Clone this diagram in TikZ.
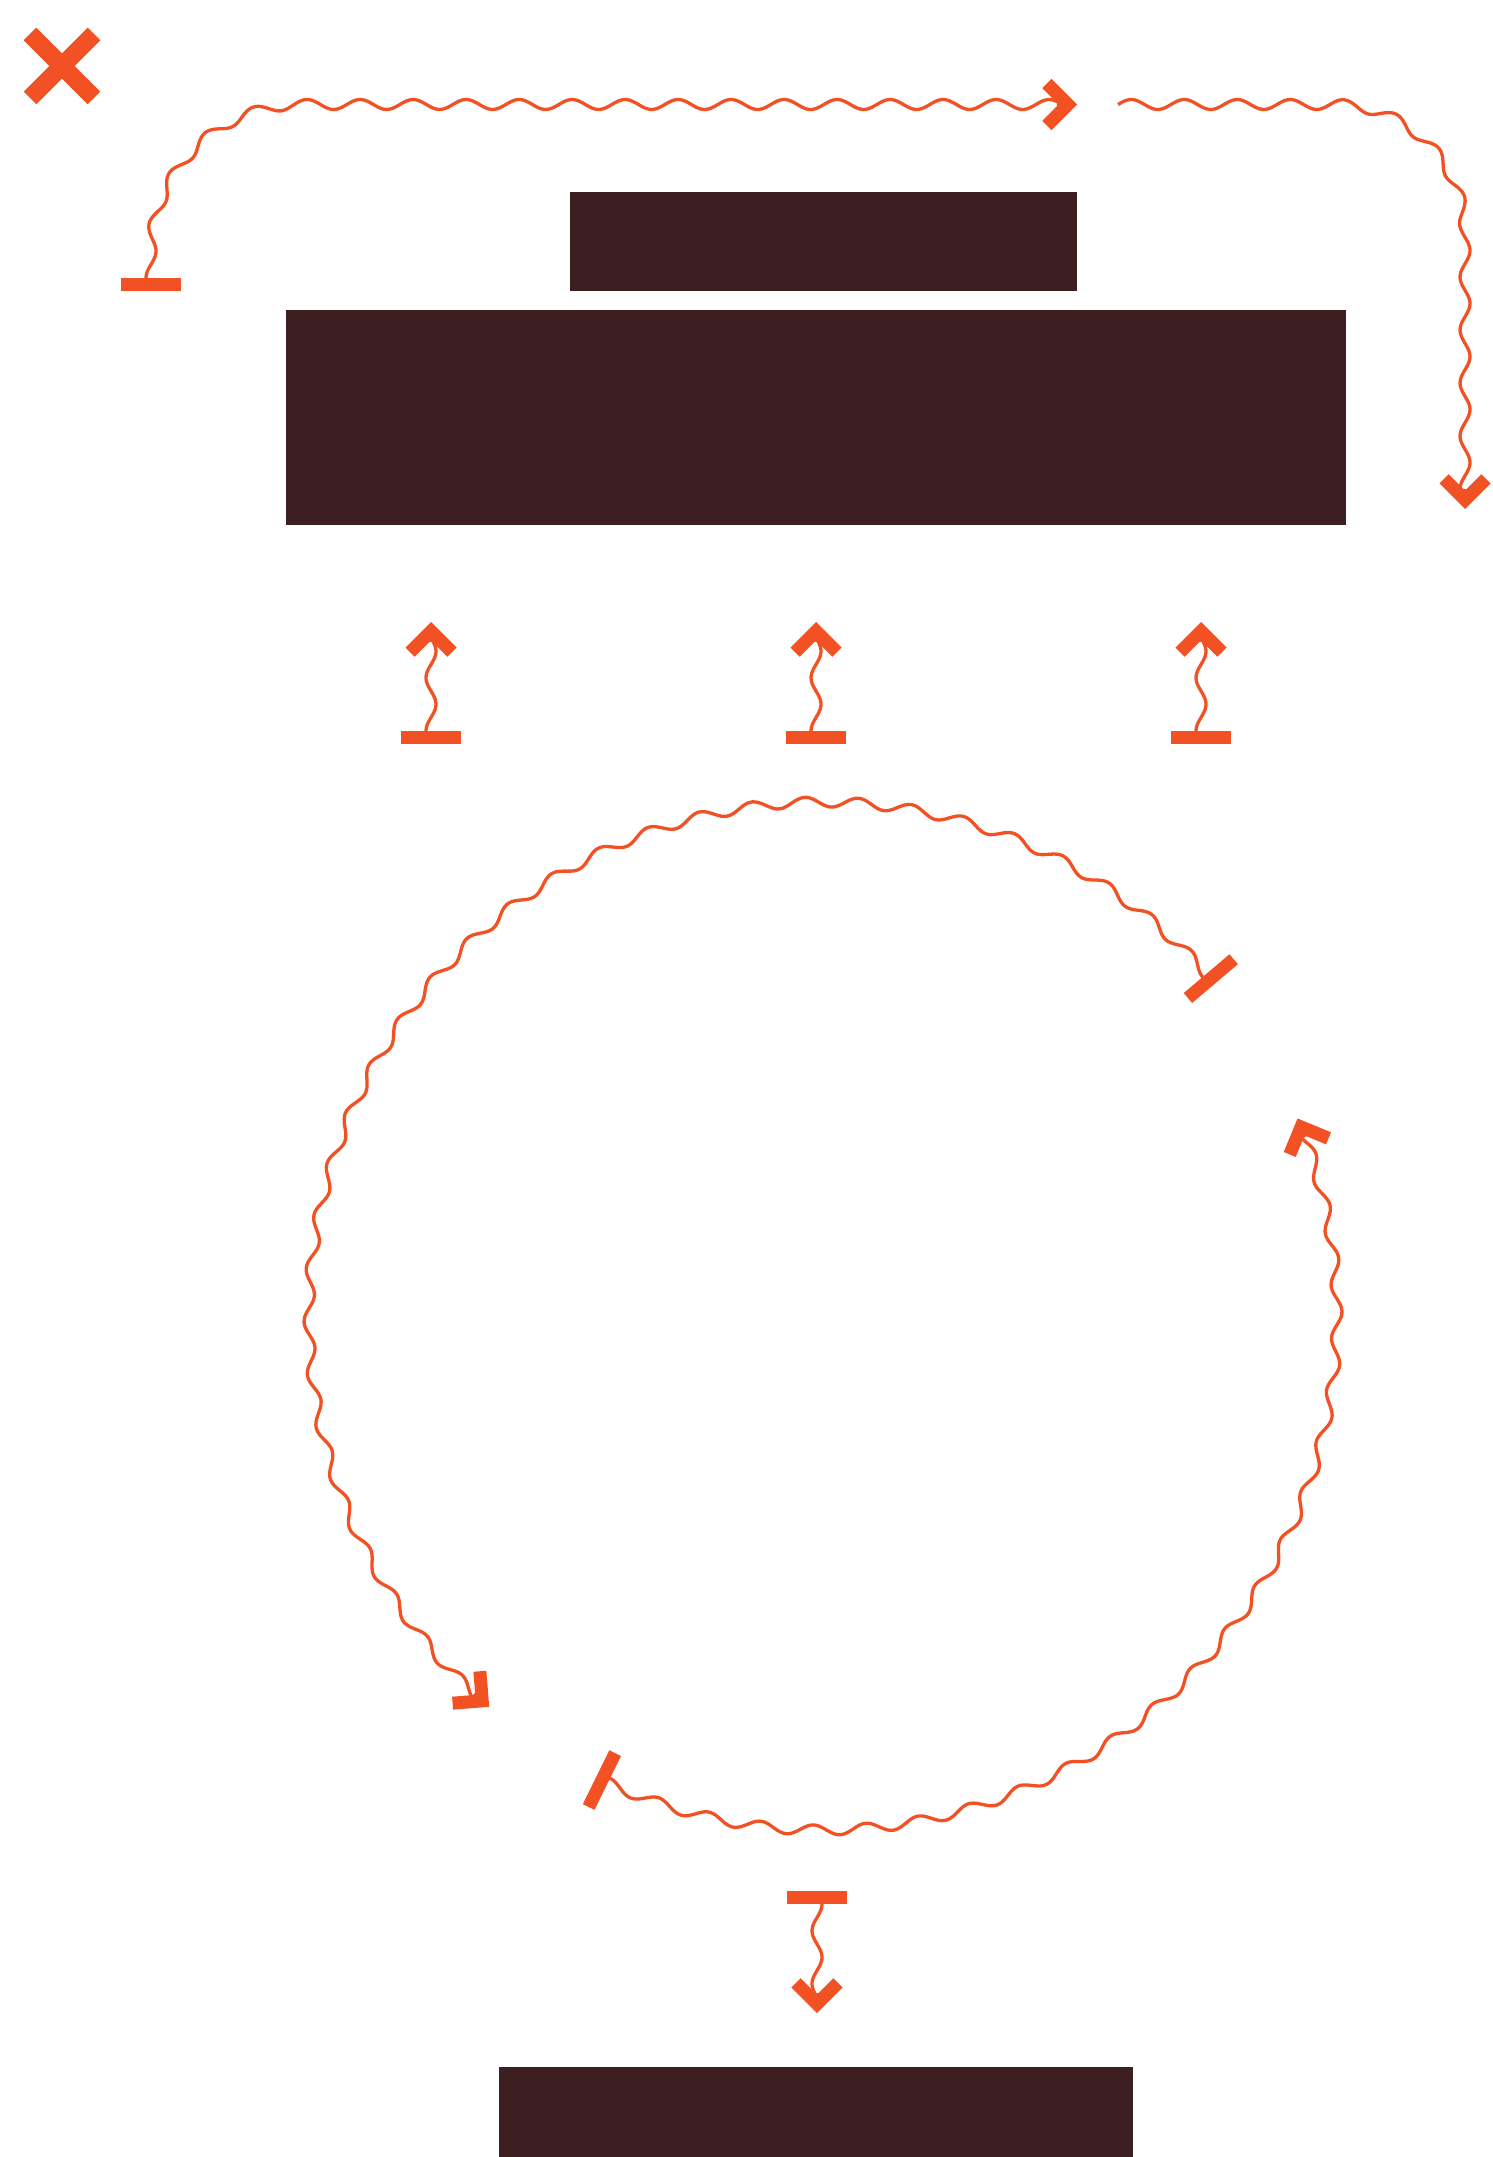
\documentclass[tikz,border=0pt]{standalone}
\usepackage{tikz}
\usetikzlibrary{arrows.meta, positioning, shapes.misc, calc}

\definecolor{accent}{RGB}{242,81,36}
\definecolor{boxdark}{RGB}{61,31,34}
% wave amplitude (cm) and wave number (deg per cm)
\def\wamp{0.05}
\def\wk{679.245}

\begin{document}
\begin{tikzpicture}[
    block/.style={
        rectangle, fill=boxdark, inner sep=0pt, outer sep=0pt
    },
    wave/.style={draw=accent, line width=0.033cm, line join=round},
    basestub/.style={draw=accent, line width=0.033cm, {Bar[width=0.6cm, line width=0.13cm]}-},
    headstub/.style={draw=accent, line width=0.033cm, -{Straight Barb[length=0.21cm, width=0.42cm, line width=0.13cm]}},
    quit/.style={cross out, draw=accent, line width=0.177cm, minimum size=0.64cm, inner sep=0pt, outer sep=0pt}
]
\useasboundingbox (0,0) rectangle (14.92,-21.57);

% Boxes
\node[block, minimum width=10.6cm, minimum height=2.15cm] (main) at (8.16,-4.175) {};
\node[block, minimum width=5.07cm, minimum height=0.995cm, above=0.185cm of main, xshift=0.075cm] (title) {};
\node[block, minimum width=6.34cm, minimum height=0.9cm] (footer) at (8.16,-21.12) {};

% Close mark
\node[quit] (close) at (0.62,-0.66) {};

% Top left connector: up, round the corner, right
\coordinate (tlfoot) at (1.51,-2.91);
\coordinate (tlhead) at (10.77,-1.045);
\draw[wave] plot[variable=\s, domain=0.065:0.365, samples=12] ({1.51-\wamp*sin(\wk*\s)}, {-2.91+\s})
    -- plot[variable=\s, domain=0.365:2.7212, samples=80] ({3.01+(1.5+\wamp*sin(\wk*\s))*cos(180-38.197*(\s-0.365))}, {-2.545+(1.5+\wamp*sin(\wk*\s))*sin(180-38.197*(\s-0.365))})
    -- plot[variable=\s, domain=2.7212:10.331, samples=260] ({3.01+\s-2.7212}, {-1.045+\wamp*sin(\wk*\s)});
\draw[basestub] (tlfoot) -- ++(0,0.1);
\draw[headstub] ($(tlhead)+(-0.2,0)$) -- (tlhead);

% Top right connector: right, round the corner, down
\coordinate (trfoot) at (11.18,-1.045);
\coordinate (trhead) at (14.65,-5.09);
\draw[wave] plot[variable=\s, domain=0:2.17, samples=75] ({11.18+\s}, {-1.045+\wamp*sin(\wk*\s)})
    -- plot[variable=\s, domain=2.17:4.212, samples=70] ({13.35+(1.3+\wamp*sin(\wk*\s))*cos(90-44.074*(\s-2.17))}, {-2.345+(1.3+\wamp*sin(\wk*\s))*sin(90-44.074*(\s-2.17))})
    -- plot[variable=\s, domain=4.212:6.807, samples=90] ({14.65+\wamp*sin(\wk*\s)}, {-2.345-(\s-4.212)});
\draw[headstub] ($(trhead)+(0,0.2)$) -- (trhead);

% Short arrows up into the main box
\foreach \px [count=\i] in {4.31, 8.16, 12.01} {
    \coordinate (up\i foot) at (\px,-7.44);
    \coordinate (up\i head) at (\px,-6.22);
    \draw[wave] plot[variable=\s, domain=0.065:1.07, samples=40] ({\px-\wamp*sin(\wk*\s)}, {-7.44+\s});
    \draw[basestub] (up\i foot) -- ++(0,0.1);
    \draw[headstub] ($(up\i head)+(0,-0.2)$) -- (up\i head);
}

% Cycle
\coordinate (hub) at (8.23,-13.16);
\coordinate (cafoot) at ([shift={(40.3:5.14)}]hub);
\coordinate (cahead) at ([shift={(229.5:5.14)}]hub);
\coordinate (cbfoot) at ([shift={(243.8:5.14)}]hub);
\coordinate (cbhead) at ([shift={(382.6:5.14)}]hub);
\draw[wave] plot[variable=\t, domain=41.03:227.83, samples=560] ({8.23+(5.14-\wamp*sin(60.935*(\t-40.3)))*cos(\t)}, {-13.16+(5.14-\wamp*sin(60.935*(\t-40.3)))*sin(\t)});
\draw[basestub] (cafoot) -- ++(130.3:0.1);
\draw[headstub] ($(cahead)+(139.5:0.2)$) -- (cahead);
\draw[wave] plot[variable=\t, domain=244.53:380.93, samples=410] ({8.23+(5.14-\wamp*sin(60.935*(\t-243.8)))*cos(\t)}, {-13.16+(5.14-\wamp*sin(60.935*(\t-243.8)))*sin(\t)});
\draw[basestub] (cbfoot) -- ++(333.8:0.1);
\draw[headstub] ($(cbhead)+(292.6:0.2)$) -- (cbhead);

% Down to the footer
\coordinate (dnfoot) at (8.17,-18.91);
\coordinate (dnhead) at (8.17,-20.13);
\draw[wave] plot[variable=\s, domain=0.065:1.07, samples=40] ({8.17+\wamp*sin(\wk*\s)}, {-18.91-\s});
\draw[basestub] (dnfoot) -- ++(0,-0.1);
\draw[headstub] ($(dnhead)+(0,0.2)$) -- (dnhead);

\end{tikzpicture}
\end{document}
